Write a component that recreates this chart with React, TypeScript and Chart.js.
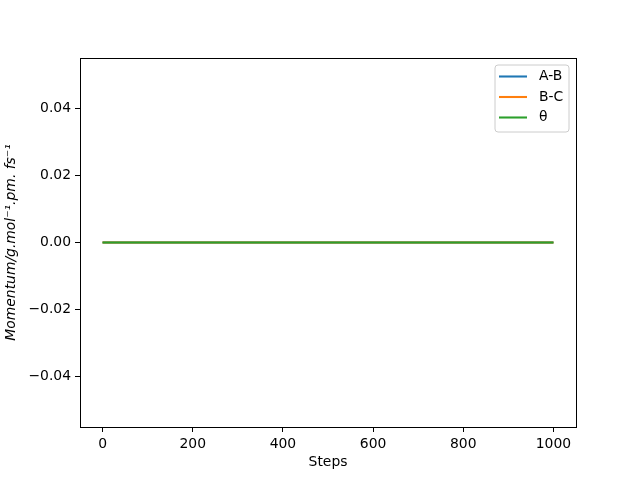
import React, { useEffect, useRef } from "react";
import { Chart, registerables } from "chart.js";

Chart.register(...registerables);

const steps = [0, 100, 200, 300, 400, 500, 600, 700, 800, 900, 1000];
const momentumAB = [0, 0, 0, 0, 0, 0, 0, 0, 0, 0, 0];
const momentumBC = [0, 0, 0, 0, 0, 0, 0, 0, 0, 0, 0];
const momentumTheta = [0, 0, 0, 0, 0, 0, 0, 0, 0, 0, 0];
const seriesLabels = ["A-B", "B-C", "θ"];
const seriesColors = ["#1f77b4", "#ff7f0e", "#2ca02c"];
const xTicks = [0, 200, 400, 600, 800, 1000];
const yTicks = [-0.04, -0.02, 0, 0.02, 0.04];
const xLabel = "Steps";
const yLabel = "Momentum/g.mol⁻¹.pm. fs⁻¹";

const FONT = "DejaVu Sans";
const FS = 13.9;

const decorPlugin = {
  id: "decor",
  afterDraw(chart: any) {
    const ctx = chart.ctx;
    const a = chart.chartArea;
    ctx.save();
    ctx.strokeStyle = "#000";
    ctx.lineWidth = 1;
    ctx.strokeRect(Math.round(a.left) + 0.5, Math.round(a.top) + 0.5, Math.round(a.right - a.left), Math.round(a.bottom - a.top));
    ctx.fillStyle = "#000";
    ctx.font = `${FS}px "${FONT}"`;
    ctx.textAlign = "center";
    ctx.textBaseline = "middle";
    ctx.fillText(xLabel, (a.left + a.right) / 2, 462);
    ctx.save();
    ctx.translate(11, (a.top + a.bottom) / 2);
    ctx.rotate(-Math.PI / 2);
    ctx.font = `italic ${FS}px "${FONT}"`;
    ctx.fillText(yLabel, 0, 0);
    ctx.restore();
    const lx = 495, ly = 65, lw = 74, lh = 67;
    ctx.fillStyle = "rgba(255,255,255,0.8)";
    ctx.strokeStyle = "#cccccc";
    ctx.lineWidth = 1;
    ctx.beginPath();
    const r = 3;
    ctx.moveTo(lx + r, ly);
    ctx.arcTo(lx + lw, ly, lx + lw, ly + lh, r);
    ctx.arcTo(lx + lw, ly + lh, lx, ly + lh, r);
    ctx.arcTo(lx, ly + lh, lx, ly, r);
    ctx.arcTo(lx, ly, lx + lw, ly, r);
    ctx.closePath();
    ctx.fill();
    ctx.stroke();
    ctx.font = `${FS}px "${FONT}"`;
    ctx.textAlign = "left";
    chart.data.datasets.forEach((ds: any, i: number) => {
      const y = 76.5 + i * 20.5;
      ctx.strokeStyle = ds.borderColor;
      ctx.lineWidth = 2.08;
      ctx.beginPath();
      ctx.moveTo(499, y);
      ctx.lineTo(527, y);
      ctx.stroke();
      ctx.fillStyle = "#000";
      ctx.fillText(ds.label, 539, y);
    });
    ctx.restore();
  },
};

export default function App() {
  const ref = useRef<HTMLCanvasElement>(null);
  useEffect(() => {
    if (!ref.current) return;
    const datasets = [momentumAB, momentumBC, momentumTheta].map((vals, i) => ({
      label: seriesLabels[i],
      data: steps.map((s, j) => ({ x: s, y: vals[j] })),
      borderColor: seriesColors[i],
      backgroundColor: seriesColors[i],
      borderWidth: 2.08,
      pointRadius: 0,
      fill: false,
      tension: 0,
      order: 2 - i,
    }));
    const chart = new Chart(ref.current, {
      type: "line",
      data: { datasets },
      options: {
        animation: false,
        responsive: false,
        devicePixelRatio: 1,
        layout: { padding: { top: 58, right: 64, left: 0, bottom: 0 } },
        plugins: { legend: { display: false }, tooltip: { enabled: false } },
        scales: {
          x: {
            type: "linear",
            min: -50,
            max: 1050,
            afterFit(scale: any) { scale.height = 53; },
            afterBuildTicks(scale: any) { scale.ticks = xTicks.map((v) => ({ value: v })); },
            grid: { display: true, drawOnChartArea: false, drawTicks: true, tickLength: 5, tickColor: "#000", color: "#000" },
            border: { display: false },
            ticks: { color: "#000", padding: 4, maxRotation: 0, autoSkip: false, font: { family: FONT, size: FS }, callback: (v: any) => String(v) },
          },
          y: {
            type: "linear",
            min: -0.055,
            max: 0.055,
            afterFit(scale: any) { scale.width = 80; },
            afterBuildTicks(scale: any) { scale.ticks = yTicks.map((v) => ({ value: v })); },
            grid: { display: true, drawOnChartArea: false, drawTicks: true, tickLength: 5, tickColor: "#000", color: "#000" },
            border: { display: false },
            ticks: {
              color: "#000", padding: 4, autoSkip: false, font: { family: FONT, size: FS },
              callback: (v: any) => { const n = Number(v); const s = Math.abs(n).toFixed(2); return n < -1e-9 ? "−" + s : s; },
            },
          },
        },
      },
      plugins: [decorPlugin],
    });
    return () => chart.destroy();
  }, []);
  return (
    <div style={{ position: "fixed", left: 0, top: 0, width: 640, height: 480, background: "#fff" }}>
      <canvas ref={ref} width={640} height={480} style={{ width: 640, height: 480, display: "block" }} />
    </div>
  );
}
